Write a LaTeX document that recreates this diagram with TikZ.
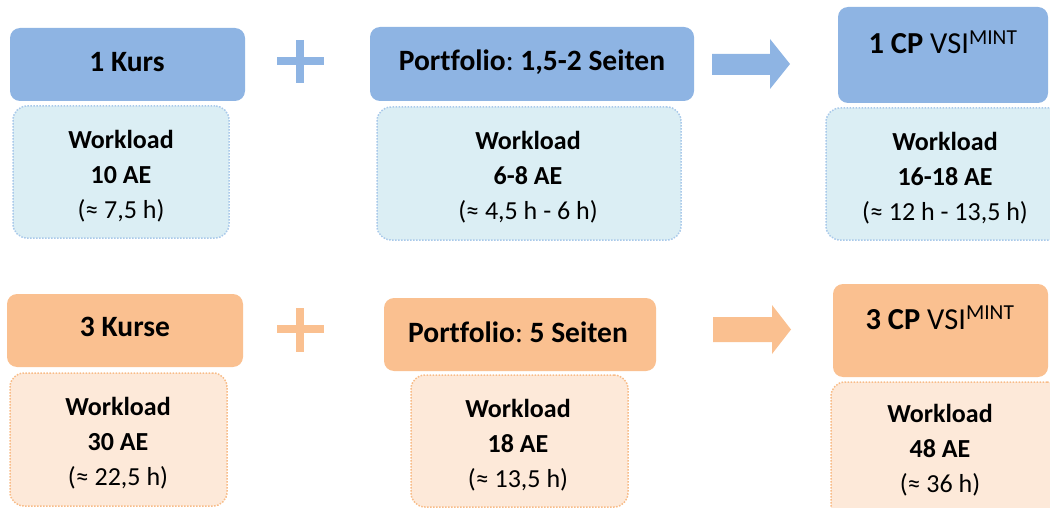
\documentclass[tikz,border=0pt]{standalone}
\usepackage{fontspec}
\setmainfont{Carlito}[Ligatures=NoCommon]
\frenchspacing
\definecolor{bluebox}{HTML}{8EB4E3}
\definecolor{bluelight}{HTML}{DBEEF4}
\definecolor{blueline}{HTML}{A9C9EA}
\definecolor{orangebox}{HTML}{FAC090}
\definecolor{orangelight}{HTML}{FDE9D9}
\definecolor{orangeline}{HTML}{F8BC88}
\tikzset{
  headbox/.style={rounded corners=10pt, inner sep=0pt, draw=none},
  workbox/.style={rounded corners=14pt, dash pattern=on 1.5pt off 1.5pt, line width=1.5pt, inner sep=0pt},
  txt/.style={font=\fontsize{26}{35}\selectfont, inner sep=0pt, align=center},
  headtxt/.style={font=\fontsize{29.5}{35}\selectfont, inner sep=0pt, align=center},
  cptxt/.style={font=\fontsize{30.5}{35}\selectfont, inner sep=0pt, align=center, anchor=base},
  plusbar/.style={line width=8pt},
}
\begin{document}
\begin{tikzpicture}[x=1pt,y=-1pt]
\useasboundingbox (0,0) rectangle (1050,508);
% ---------- top row ----------
\node[headbox, fill=bluebox, minimum width=235pt, minimum height=73pt] (kurs) at (127.5,64.5) {};
\node[headtxt] (kurst) at (127,62) {\textbf{1 Kurs}};
\node[workbox, fill=bluelight, draw=blueline, minimum width=216pt, minimum height=132pt] (kursw) at (121,172) {};
\node[txt] (kurswt) at (121,176) {\textbf{Workload}\\\textbf{10 AE}\\(≈ 7,5 h)};

\draw[plusbar, bluebox] (277,61.5) -- (324,61.5);
\draw[plusbar, bluebox] (300,40) -- (300,83);

\node[headbox, fill=bluebox, minimum width=324pt, minimum height=74pt] (port) at (532,64) {};
\node[headtxt] (portt) at (532,62) {\textbf{Portfolio}: \textbf{1,5-2 Seiten}};
\node[workbox, fill=bluelight, draw=blueline, minimum width=304pt, minimum height=133pt] (portw) at (529,173.5) {};
\node[txt] (portwt) at (528,177) {\textbf{Workload}\\\textbf{6-8 AE}\\(≈ 4,5 h - 6 h)};

\fill[bluebox] (712,54) -- (770,54) -- (770,39) -- (790,64) -- (770,89) -- (770,75) -- (712,75) -- cycle;

\node[headbox, fill=bluebox, minimum width=210pt, minimum height=96pt] (cp) at (943,55) {};
\node[cptxt] (cpt) at (943,54) {\textbf{1 CP} VSI\textsuperscript{MINT}};
\node[workbox, fill=bluelight, draw=blueline, minimum width=240pt, minimum height=132pt] (cpw) at (946,174) {};
\node[txt] (cpwt) at (945,178) {\textbf{Workload}\\\textbf{16-18 AE}\\(≈ 12 h - 13,5 h)};

% ---------- bottom row ----------
\node[headbox, fill=orangebox, minimum width=236pt, minimum height=73pt] (kurse) at (125,330.5) {};
\node[headtxt] (kurset) at (125,327) {\textbf{3 Kurse}};
\node[workbox, fill=orangelight, draw=orangeline, minimum width=217pt, minimum height=133pt] (kursew) at (118.5,439.5) {};
\node[txt] (kursewt) at (118,443) {\textbf{Workload}\\\textbf{30 AE}\\(≈ 22,5 h)};

\draw[plusbar, orangebox] (277,329) -- (324,329);
\draw[plusbar, orangebox] (300,308) -- (300,352);

\node[headbox, fill=orangebox, minimum width=272pt, minimum height=73pt] (port5) at (520,334.5) {};
\node[headtxt] (port5t) at (518,332) {\textbf{Portfolio}: \textbf{5 Seiten}};
\node[workbox, fill=orangelight, draw=orangeline, minimum width=217pt, minimum height=132pt] (port5w) at (519.5,441) {};
\node[txt] (port5wt) at (518,445) {\textbf{Workload}\\\textbf{18 AE}\\(≈ 13,5 h)};

\fill[orangebox] (713,317) -- (772,317) -- (772,305) -- (791,329.5) -- (772,354) -- (772,342) -- (713,342) -- cycle;

\node[headbox, fill=orangebox, minimum width=215pt, minimum height=93pt] (cp3) at (940.5,330.5) {};
\node[cptxt] (cp3t) at (940,329) {\textbf{3 CP} VSI\textsuperscript{MINT}};
\node[workbox, fill=orangelight, draw=orangeline, minimum width=230pt, minimum height=140pt] (cp3w) at (946,452) {};
\node[txt] (cp3wt) at (940,450) {\textbf{Workload}\\\textbf{48 AE}\\(≈ 36 h)};
\end{tikzpicture}
\end{document}
